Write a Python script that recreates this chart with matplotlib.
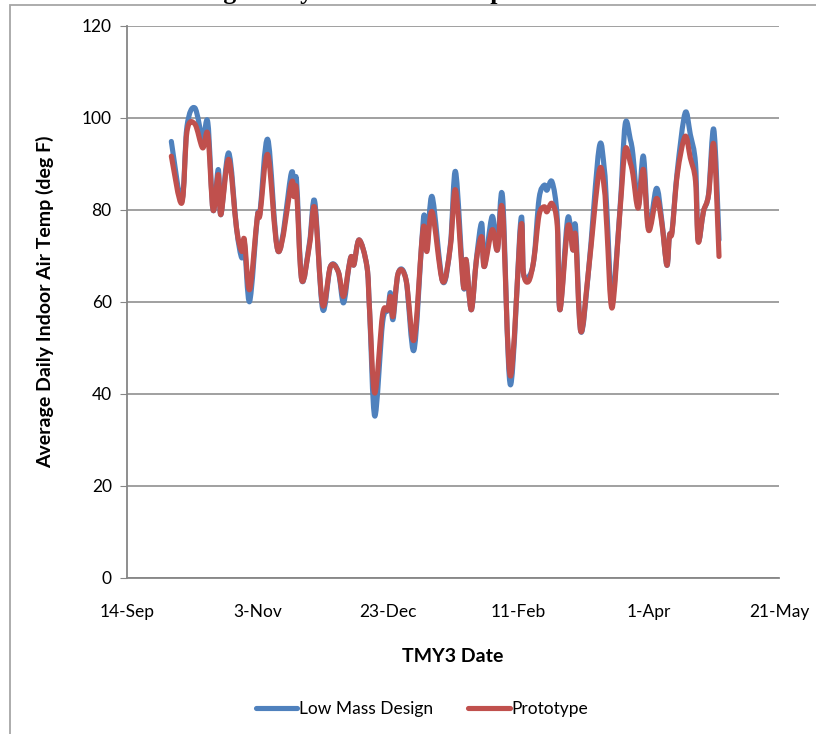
import matplotlib
matplotlib.use('Agg')
import matplotlib.pyplot as plt
import matplotlib.patches as mpatches
import matplotlib.dates as mdates
from matplotlib.path import Path
from matplotlib.lines import Line2D
import pandas as pd

# days counted from 14-Sep (season 2007/2008)
days = [17, 21, 23, 26, 29, 31, 33, 35, 36, 39, 42, 44, 45, 47, 50, 51, 54, 58,
        63, 64, 65, 67, 70, 72, 75, 78, 81, 83, 85, 86, 87, 89, 92, 93, 95, 98,
        100, 101, 102, 104, 107, 110, 113, 114, 115, 117, 121, 124, 126, 129,
        130, 132, 134, 136, 137, 140, 142, 144, 147, 151, 152, 154, 156, 158,
        160, 161, 163, 165, 166, 169, 171, 172, 174, 177, 181, 183, 184, 186,
        189, 191, 193, 194, 196, 198, 200, 203, 205, 207, 208, 209, 211, 214,
        216, 218, 219, 221, 223, 225, 227]

low_mass = [94.9, 82.0, 98.2, 102.2, 95.7, 99.0, 80.0, 88.8, 79.0, 92.4, 76.0,
            69.6, 73.0, 60.1, 78.6, 79.5, 95.3, 71.0, 88.0, 83.0, 86.5, 64.8,
            73.0, 81.8, 58.5, 67.7, 66.6, 59.8, 67.4, 69.9, 68.1, 73.5, 67.7,
            58.3, 35.2, 55.5, 58.3, 62.0, 56.2, 66.3, 64.8, 49.5, 73.0, 78.9,
            71.5, 82.9, 64.5, 72.5, 88.3, 63.4, 69.2, 58.3, 69.5, 77.1, 67.7,
            78.6, 71.3, 82.9, 42.0, 77.8, 66.3, 65.5, 69.2, 82.5, 85.4, 84.3,
            86.1, 78.0, 58.3, 78.2, 71.3, 76.4, 53.6, 67.0, 93.4, 89.0, 80.0,
            60.9, 80.0, 98.6, 95.3, 92.0, 81.0, 91.7, 76.0, 84.7, 78.0, 68.0,
            74.5, 75.5, 88.5, 101.1, 96.4, 90.0, 73.5, 79.6, 83.5, 97.5, 73.5]

prototype = [91.7, 81.5, 97.1, 98.7, 93.5, 96.4, 80.0, 87.7, 79.0, 91.0, 76.0,
             71.0, 73.6, 62.7, 78.6, 79.0, 92.0, 71.0, 85.8, 82.9, 84.3, 64.8,
             72.5, 80.4, 59.4, 67.7, 66.6, 61.2, 67.4, 69.9, 68.1, 73.5, 67.7,
             58.3, 40.2, 57.3, 58.3, 61.2, 56.9, 66.3, 64.8, 51.7, 72.8, 76.4,
             71.0, 79.6, 64.5, 72.1, 84.3, 63.4, 69.2, 58.3, 69.2, 74.2, 67.7,
             75.7, 71.3, 80.0, 43.9, 76.4, 66.3, 64.5, 69.2, 78.9, 80.7, 79.6,
             81.4, 76.4, 58.3, 76.4, 71.3, 74.2, 53.6, 67.0, 88.3, 84.7, 76.0,
             58.7, 79.6, 93.1, 90.2, 87.7, 80.4, 88.8, 75.6, 82.5, 77.4, 68.0,
             74.5, 75.2, 87.7, 96.0, 91.3, 86.2, 73.1, 79.6, 83.3, 94.2, 69.9]

tick_dates = ['2007-09-14', '2007-11-03', '2007-12-23', '2008-02-11', '2008-04-01', '2008-05-21']
tick_labels = ['14-Sep', '3-Nov', '23-Dec', '11-Feb', '1-Apr', '21-May']

start = pd.Timestamp('2007-09-14')
dates = start + pd.to_timedelta(days, unit='D')
ticks = pd.to_datetime(tick_dates)


def smooth_path(x, y):
    # Excel-style smoothed line: bezier segments through the data points
    verts = [(x[0], y[0])]
    codes = [Path.MOVETO]
    n = len(x)
    for i in range(n - 1):
        xa, ya = (x[i - 1], y[i - 1]) if i > 0 else (x[i], y[i])
        xb, yb = (x[i + 2], y[i + 2]) if i + 2 < n else (x[i + 1], y[i + 1])
        c1 = (x[i] + (x[i + 1] - xa) / 6, y[i] + (y[i + 1] - ya) / 6)
        c2 = (x[i + 1] - (xb - x[i]) / 6, y[i + 1] - (yb - y[i]) / 6)
        verts += [c1, c2, (x[i + 1], y[i + 1])]
        codes += [Path.CURVE4] * 3
    return Path(verts, codes)


plt.rcParams['font.family'] = ['Lato', 'DejaVu Sans']

fig = plt.figure(figsize=(8.16, 7.34), dpi=100)
ax = fig.add_axes([127/816, 1 - 578/734, (779 - 127)/816, (578 - 26)/734])

xnum = list(mdates.date2num(dates))
series = [('Low Mass Design', low_mass, '#4F81BD'), ('Prototype', prototype, '#C0504D')]
handles = []
for k, (name, vals, col) in enumerate(series):
    patch = mpatches.PathPatch(smooth_path(xnum, vals), fill=False, edgecolor=col, lw=3.7,
                               joinstyle='round', capstyle='round', zorder=3 + k)
    ax.add_patch(patch)
    handles.append(Line2D([], [], color=col, lw=3.7, solid_capstyle='round', label=name))

ax.set_ylim(0, 120)
ax.set_yticks([0, 20, 40, 60, 80, 100, 120])
ax.set_xlim(ticks[0], ticks[-1])
ax.set_xticks(ticks)
ax.set_xticklabels(tick_labels)
ax.grid(axis='y', color='#868686', lw=1.1)
ax.set_axisbelow(True)
for s in ['top', 'right']:
    ax.spines[s].set_visible(False)
for s in ['left', 'bottom']:
    ax.spines[s].set_color('#868686')
    ax.spines[s].set_linewidth(1.3)
ax.tick_params(axis='y', length=5, color='#868686', labelsize=12.5, pad=6)
ax.tick_params(axis='x', length=0, labelsize=12.5, pad=19)

ax.set_ylabel('Average Daily Indoor Air Temp (deg F)', fontsize=14, fontweight='bold', labelpad=20)
ax.set_xlabel('TMY3 Date', fontsize=14, fontweight='bold', labelpad=20)

# chart area border (cut off by the picture edges)
fig.patches.append(mpatches.Rectangle((10/816, -0.05), 1.1, 1 - 5/734 + 0.05,
                                      transform=fig.transFigure, fill=False,
                                      edgecolor='#a6a6a6', lw=1.3))
# title only partly visible at the top edge
fig.text(372/816, 1 + 1/734, 'Average Daily Indoor Air Temperature', ha='center', va='baseline',
         fontsize=18.5, fontweight='bold', family='Liberation Serif')

fig.legend(handles=handles, loc='center', bbox_to_anchor=(422/816, 1 - 709/734), ncol=2,
           frameon=False, fontsize=12.5, handlelength=2.4, handletextpad=0.1, columnspacing=2.0)

fig.savefig('out.png', dpi=100)
